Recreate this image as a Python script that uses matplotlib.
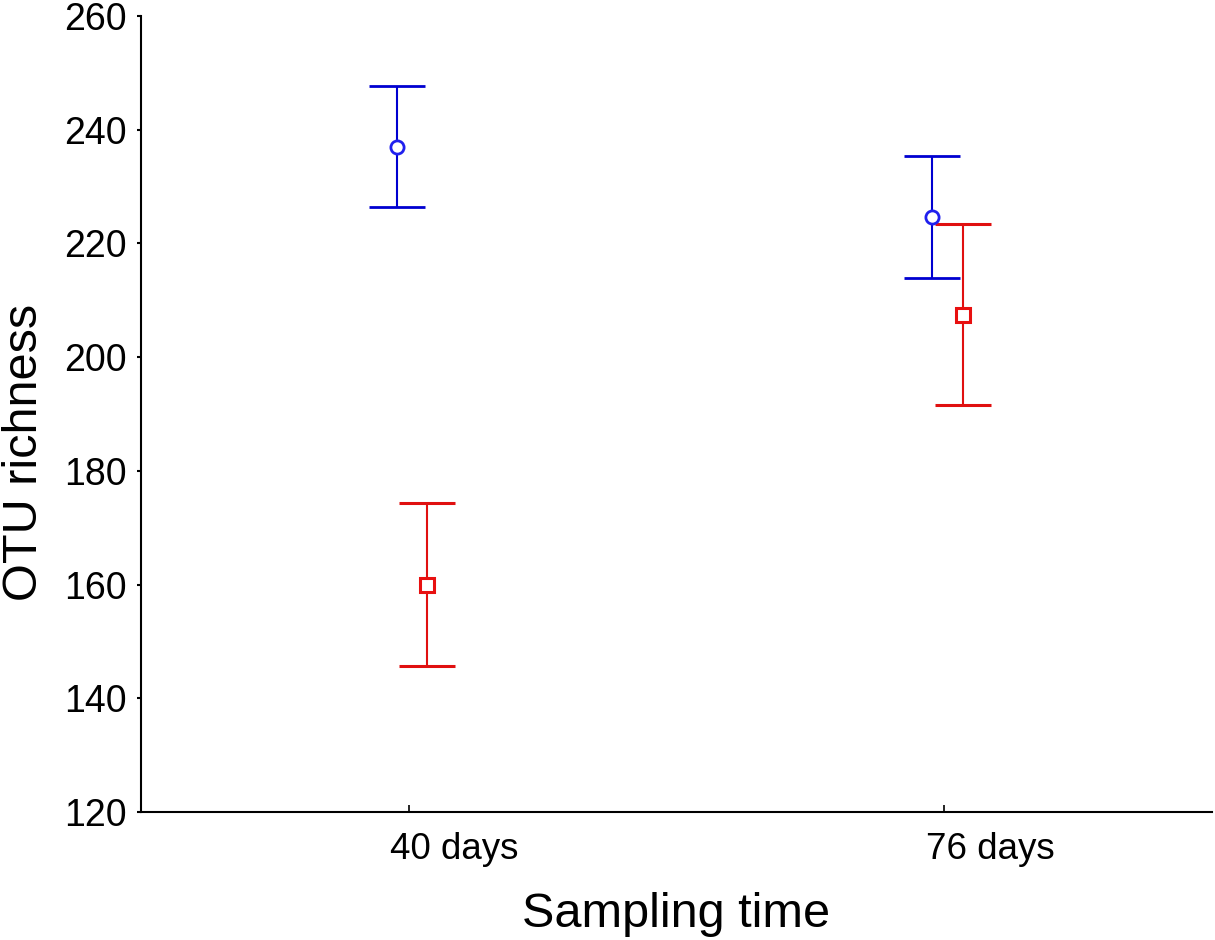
import matplotlib
matplotlib.use("Agg")
import matplotlib.pyplot as plt
import matplotlib.transforms as mtransforms
import numpy as np

plt.rcParams['font.family'] = ['Liberation Sans', 'DejaVu Sans']

categories = ["40 days", "76 days"]
blue_mean = [237.0, 224.7]
blue_low = [226.4, 214.0]
blue_high = [247.6, 235.4]
red_mean = [160.0, 207.5]
red_low = [145.7, 191.6]
red_high = [174.3, 223.5]
yticks = [120, 140, 160, 180, 200, 220, 240, 260]

fig = plt.figure(figsize=(12.15, 9.4), dpi=100)
ax = fig.add_axes([0.116, 0.136, 0.8815, 0.847])

x = np.arange(len(categories))
bm = np.array(blue_mean); rm = np.array(red_mean)
ax.errorbar(x - 0.022, bm, yerr=[bm - np.array(blue_low), np.array(blue_high) - bm],
            fmt='o', color='#0000d0', ecolor='#0000d0', elinewidth=1.5, capsize=20,
            capthick=1.5, markersize=9.5, markerfacecolor='white', markeredgewidth=2,
            markeredgecolor='#2020ee', zorder=3)
ax.errorbar(x + 0.035, rm, yerr=[rm - np.array(red_low), np.array(red_high) - rm],
            fmt='s', color='#e01010', ecolor='#e01010', elinewidth=1.5, capsize=20,
            capthick=1.5, markersize=10, markerfacecolor='white', markeredgewidth=2.2,
            markeredgecolor='#e81010', zorder=3)

ax.set_xlim(-0.5, 1.5)
ax.set_ylim(120, 260)
ax.set_yticks(yticks)
ax.set_xticks(x)
ax.set_xticklabels(categories)
for s in ['top', 'right']:
    ax.spines[s].set_visible(False)
for s in ['left', 'bottom']:
    ax.spines[s].set_linewidth(1.5)
ax.tick_params(axis='y', direction='out', length=3, width=1.5, labelsize=27, pad=7)
ax.tick_params(axis='x', direction='in', length=5, width=1.2, labelsize=26.5, pad=14)
offset = mtransforms.ScaledTranslation(0.46, 0, fig.dpi_scale_trans)
for lab in ax.get_xticklabels():
    lab.set_transform(lab.get_transform() + offset)
ax.set_xlabel("Sampling time", fontsize=35, labelpad=18)
ax.set_ylabel("OTU richness", fontsize=35)
ax.yaxis.set_label_coords(-0.088, 0.452)

fig.savefig("out.png", dpi=100)
